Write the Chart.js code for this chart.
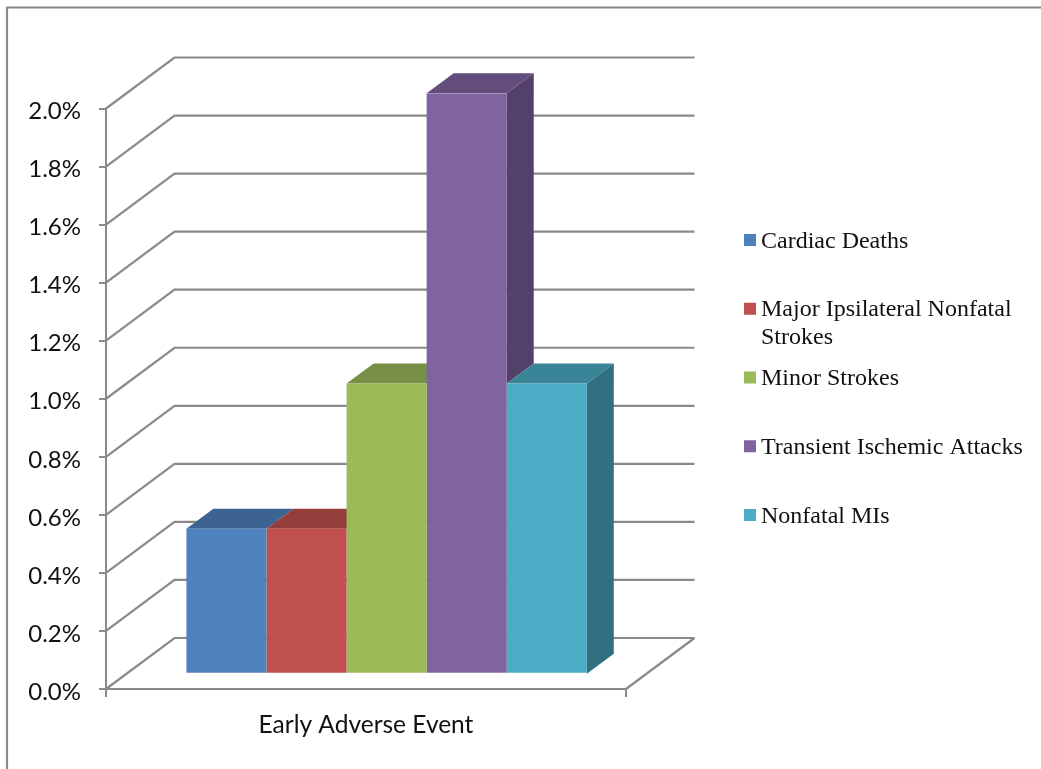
<!DOCTYPE html>
<html>
<head>
<meta charset="utf-8">
<title>Early Adverse Event</title>
<script src="https://cdn.jsdelivr.net/npm/chart.js@4/dist/chart.umd.min.js"></script>
<style>
    html, body { margin: 0; padding: 0; background: #fff; }
    canvas { display: block; }
</style>
</head>
<body>
<canvas id="eventChart" width="1041" height="769"></canvas>
<script>
const categories = ["Early Adverse Event"];
const seriesNames = ["Cardiac Deaths", "Major Ipsilateral Nonfatal Strokes", "Minor Strokes", "Transient Ischemic Attacks", "Nonfatal MIs"];
const seriesValues = [0.5, 0.5, 1.0, 2.0, 1.0];
const seriesColors = ["#4F81BD", "#C0504D", "#9BBB59", "#8064A2", "#4BACC6"];

const lineColor = "#8A8A8A";
// how far the back wall sits behind the axes
const wall = { dx: 68.5, dy: -51 };
// bars stand on the floor, a little behind the front edge
const barShift = { dx: 20.6, dy: -15.2 };
const barDepth = { dx: 27, dy: -20 };

function shade(hex, f) {
    let n = parseInt(hex.slice(1), 16);
    let r = Math.round((n >> 16) * f);
    let g = Math.round(((n >> 8) & 255) * f);
    let b = Math.round((n & 255) * f);
    return `rgb(${r},${g},${b})`;
}

function poly(ctx, pts, fill) {
    ctx.beginPath();
    pts.forEach((p, i) => i ? ctx.lineTo(p[0], p[1]) : ctx.moveTo(p[0], p[1]));
    ctx.closePath();
    ctx.fillStyle = fill;
    ctx.fill();
}

// page frame, side wall, back wall and floor
const wallsPlugin = {
    id: "walls",
    beforeDatasetsDraw(chart) {
        let ctx = chart.ctx;
        let y = chart.scales.y;
        let area = chart.chartArea;

        ctx.save();
        ctx.strokeStyle = lineColor;
        ctx.lineWidth = 2.2;

        ctx.beginPath();
        ctx.moveTo(7, 769);
        ctx.lineTo(7, 7.5);
        ctx.lineTo(1041, 7.5);
        ctx.stroke();

        y.ticks.forEach(t => {
            let py = y.getPixelForValue(t.value);
            ctx.beginPath();
            ctx.moveTo(area.left, py);
            ctx.lineTo(area.left + wall.dx, py + wall.dy);
            ctx.lineTo(area.right + wall.dx, py + wall.dy);
            ctx.stroke();
        });

        ctx.beginPath();
        ctx.moveTo(area.right, area.bottom);
        ctx.lineTo(area.right + wall.dx, area.bottom + wall.dy);
        ctx.stroke();
        ctx.restore();
    }
};

// side and top faces go underneath, left to right, then the library paints the fronts
const depthPlugin = {
    id: "depth",
    beforeDatasetsDraw(chart) {
        let ctx = chart.ctx;
        let base = chart.scales.y.getPixelForValue(0) + barShift.dy;
        chart.data.datasets.forEach((ds, i) => {
            let bar = chart.getDatasetMeta(i).data[0];
            let next = chart.getDatasetMeta(i + 1);
            let left = bar.x - bar.width / 2 + barShift.dx;
            let right = bar.x + bar.width / 2 + barShift.dx;
            let top = bar.y + barShift.dy;
            // only the part of the side that rises above the neighbour shows
            let sideBase = i < seriesValues.length - 1 ? next.data[0].y + barShift.dy : base;
            let color = seriesColors[i];
            if (top < sideBase) {
                poly(ctx, [[right, top], [right + barDepth.dx, top + barDepth.dy],
                    [right + barDepth.dx, sideBase + barDepth.dy], [right, sideBase]], shade(color, 0.65));
            }
            poly(ctx, [[left, top], [left + barDepth.dx, top + barDepth.dy],
                [right + barDepth.dx, top + barDepth.dy], [right, top]], shade(color, 0.77));
        });
        ctx.save();
        ctx.translate(barShift.dx, barShift.dy);
    },
    afterDatasetsDraw(chart) {
        chart.ctx.restore();
    }
};

// legend rows are evenly spaced and the long name hangs onto a second line
const legendPlugin = {
    id: "sideLegend",
    afterDraw(chart) {
        let ctx = chart.ctx;
        ctx.save();
        ctx.font = "24px 'Liberation Serif'";
        ctx.textBaseline = "alphabetic";
        ctx.textAlign = "left";
        seriesNames.forEach((name, i) => {
            let cy = 240 + i * 68.75;
            ctx.fillStyle = seriesColors[i];
            ctx.fillRect(744, cy - 6, 12, 12);
            ctx.fillStyle = "#111";
            let lines = name === seriesNames[1] ? ["Major Ipsilateral Nonfatal", "Strokes"] : [name];
            lines.forEach((line, k) => ctx.fillText(line, 761, cy + 7.5 + k * 28));
        });
        ctx.restore();
    }
};

new Chart(document.getElementById("eventChart"), {
    type: "bar",
    data: {
        labels: categories,
        datasets: seriesNames.map((name, i) => ({
            label: name,
            data: [seriesValues[i]],
            backgroundColor: seriesColors[i],
            borderWidth: 0
        }))
    },
    options: {
        responsive: false,
        animation: false,
        events: [],
        layout: { padding: { top: 108.5, right: 415, left: 0, bottom: 0 } },
        datasets: { bar: { categoryPercentage: 0.77, barPercentage: 1 } },
        plugins: { legend: { display: false }, tooltip: { enabled: false } },
        scales: {
            x: {
                grid: { offset: true, drawOnChartArea: false, color: lineColor, lineWidth: 2, tickLength: 8 },
                border: { color: lineColor, width: 2 },
                ticks: { color: "#111", font: { family: "Lato", size: 24.5 }, padding: 13, maxRotation: 0 },
                afterFit(scale) { scale.height = 80; }
            },
            y: {
                min: 0,
                max: 2,
                grid: { drawOnChartArea: false, color: lineColor, lineWidth: 2, tickLength: 7 },
                border: { color: lineColor, width: 2 },
                ticks: {
                    stepSize: 0.2,
                    padding: 18,
                    labelOffset: 3,
                    color: "#111",
                    font: { family: "Lato", size: 24 },
                    callback: v => v.toFixed(1) + "%"
                },
                afterFit(scale) { scale.width = 106; }
            }
        }
    },
    plugins: [wallsPlugin, depthPlugin, legendPlugin]
});
</script>
</body>
</html>
